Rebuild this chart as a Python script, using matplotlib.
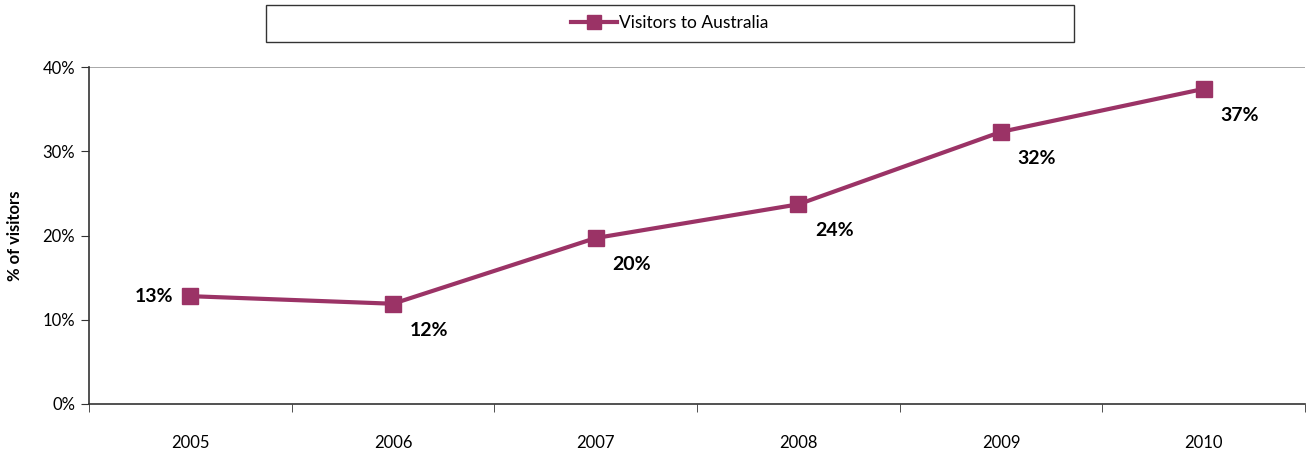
import matplotlib.pyplot as plt
from matplotlib.patches import Rectangle
from matplotlib.ticker import FuncFormatter, FixedLocator

# ---------------- DATA ----------------
years = ["2005", "2006", "2007", "2008", "2009", "2010"]
visitors = [12.8, 11.9, 19.7, 23.7, 32.3, 37.4]
labels = ["13%", "12%", "20%", "24%", "32%", "37%"]

COLOR = "#9B3366"
plt.rcParams["font.family"] = ["Lato", "DejaVu Sans"]

W, H = 1307, 450
fig = plt.figure(figsize=(W / 100, H / 100), dpi=100)
ax = fig.add_axes([89 / W, 1 - 404 / H, (1305 - 89) / W, (404 - 67) / H])

x = list(range(len(years)))
line, = ax.plot(x, visitors, color=COLOR, lw=3, marker="s", ms=11,
                label="Visitors to Australia", clip_on=False, zorder=3)

for i, (v, lab) in enumerate(zip(visitors, labels)):
    if i == 0:
        ax.annotate(lab, (i, v), xytext=(-12, 0), textcoords="offset points",
                    ha="right", va="center", fontsize=14, fontweight="bold")
    else:
        ax.annotate(lab, (i, v), xytext=(12, -13), textcoords="offset points",
                    ha="left", va="top", fontsize=14, fontweight="bold")

ax.set_xlim(-0.5, len(years) - 0.5)
ax.set_ylim(0, 40)
ax.set_yticks([0, 10, 20, 30, 40])
ax.yaxis.set_major_formatter(FuncFormatter(lambda v, p: f"{v:.0f}%"))
ax.set_xticks(x)
ax.set_xticklabels(years)
ax.xaxis.set_minor_locator(FixedLocator([i - 0.5 for i in range(len(years) + 1)]))
ax.tick_params(axis="x", which="major", length=0, pad=22, labelsize=12)
ax.tick_params(axis="x", which="minor", length=6, direction="out", color="#333333")
ax.tick_params(axis="y", length=6, direction="out", labelsize=12, color="#333333", pad=4)

ax.axhline(40, color="#999999", lw=1.2, zorder=1)
for s in ["top", "right"]:
    ax.spines[s].set_visible(False)
for s in ["left", "bottom"]:
    ax.spines[s].set_color("#333333")
    ax.spines[s].set_linewidth(1.2)

ax.set_ylabel("% of visitors", fontsize=12, fontweight="bold", labelpad=14)

# legend box
fig.patches.append(Rectangle((266 / W, 1 - 42 / H), (1074 - 266) / W, 37 / H,
                             transform=fig.transFigure, fill=False,
                             edgecolor="#333333", lw=1.0))
fig.legend(handles=[line], loc="center", bbox_to_anchor=(670 / W, 1 - 23.5 / H),
           frameon=False, fontsize=12.5, handlelength=2.6, handletextpad=0.15,
           markerscale=0.9)

fig.savefig("out.png", dpi=100)
